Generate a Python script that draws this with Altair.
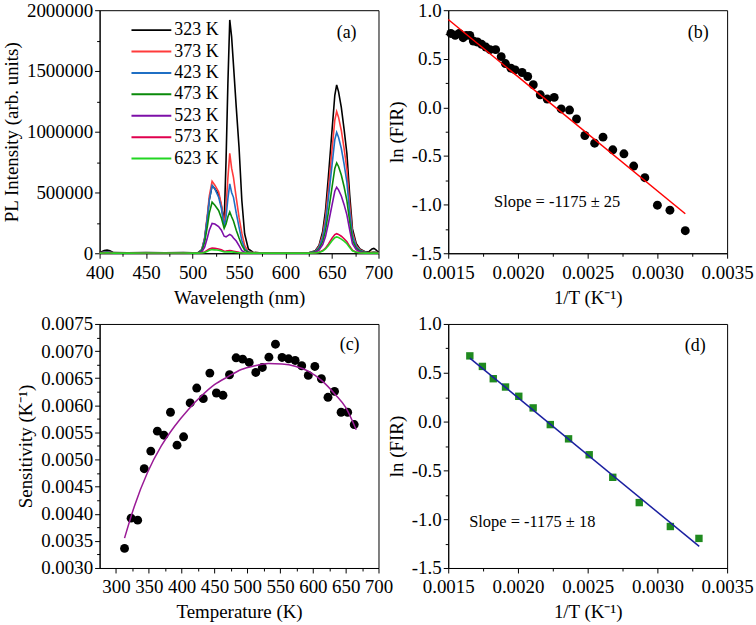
import altair as alt
import pandas as pd

FONT = "Liberation Serif"

# ---------------- Panel (a): PL spectra (intensity in thousands of arb. units) ----------------
wavelength = [400, 405, 408, 411, 415, 430, 450, 470, 490, 500,
              506, 510, 513, 516, 518, 521, 524, 528, 531, 534,
              536, 538, 540, 542, 544, 547, 550, 553, 556, 560,
              565, 575, 600, 625, 632, 636, 640, 643, 646, 650,
              653, 655, 657, 660, 663, 666, 669, 672, 676, 680,
              686, 690, 693, 695, 697, 700]
temps = ["323 K", "373 K", "423 K", "473 K", "523 K", "573 K", "623 K"]
temp_colors = ["#000000", "#ff3b3b", "#1f6fc4", "#0a8a0a", "#7d0fa8", "#e0004e", "#22d622"]

pl_323 = [5, 22, 27, 20, 5, 3, 5, 4, 6, 3,
          5, 30, 120, 300, 440, 557, 530, 485, 390, 260,
          760, 1400, 1920, 1780, 1550, 1200, 870, 434, 160, 35,
          8, 2, 2, 3, 20, 65, 180, 350, 620, 1010,
          1300, 1385, 1330, 1200, 1020, 820, 480, 200, 80, 35,
          10, 15, 35, 40, 30, 8]
pl_373 = [3, 8, 10, 8, 3, 2, 3, 3, 4, 3,
          5, 30, 130, 320, 470, 593, 560, 505, 400, 232,
          380, 620, 822, 700, 625, 455, 295, 165, 65, 12,
          5, 2, 2, 3, 17, 55, 150, 295, 520, 850,
          1095, 1166, 1120, 1010, 860, 690, 400, 170, 65, 28,
          8, 5, 8, 10, 8, 4]
pl_423 = [3, 8, 10, 8, 3, 2, 3, 3, 4, 3,
          5, 28, 120, 300, 440, 557, 530, 462, 370, 216,
          300, 450, 571, 500, 460, 330, 215, 105, 38, 10,
          4, 2, 2, 3, 15, 47, 130, 250, 445, 725,
          935, 994, 955, 862, 733, 585, 340, 145, 55, 24,
          7, 4, 6, 8, 6, 3]
pl_473 = [2, 6, 8, 6, 2, 2, 3, 3, 4, 3,
          4, 22, 90, 225, 330, 420, 395, 352, 290, 205,
          240, 300, 339, 300, 265, 190, 125, 66, 25, 8,
          3, 2, 2, 2, 11, 35, 96, 187, 332, 542,
          698, 743, 714, 644, 547, 433, 262, 108, 41, 18,
          5, 3, 5, 6, 5, 2]
pl_523 = [2, 5, 6, 5, 2, 2, 3, 3, 3, 2,
          3, 12, 50, 130, 190, 245, 240, 220, 190, 140,
          135, 145, 155, 145, 125, 100, 62, 22, 8, 4,
          2, 1, 1, 2, 8, 26, 70, 137, 243, 396,
          510, 543, 522, 471, 400, 316, 192, 79, 30, 13,
          4, 2, 3, 4, 3, 1]
pl_573 = [1, 3, 4, 3, 1, 1, 2, 2, 2, 1,
          2, 3, 10, 25, 35, 43, 40, 35, 28, 16,
          18, 21, 22, 20, 17, 12, 7, 3, 1, 1,
          1, 1, 1, 1, 3, 8, 22, 42, 75, 123,
          154, 161, 155, 140, 119, 94, 57, 24, 9, 4,
          1, 1, 1, 2, 1, 1]
pl_623 = [1, 2, 3, 2, 1, 1, 2, 2, 2, 1,
          1, 2, 7, 17, 25, 30, 28, 24, 19, 10,
          10, 11, 12, 11, 9, 6, 4, 2, 1, 1,
          1, 1, 1, 1, 2, 7, 19, 35, 62, 102,
          128, 134, 129, 116, 99, 78, 47, 20, 8, 3,
          1, 1, 1, 1, 1, 1]
spectra = [pl_323, pl_373, pl_423, pl_473, pl_523, pl_573, pl_623]

# ---------------- Panel (b) ----------------
invT_b = [0.001519, 0.00155, 0.001578, 0.001607, 0.00163, 0.001655, 0.00168, 0.00171,
          0.00174, 0.00177, 0.0018, 0.00184, 0.00188, 0.00191, 0.00195, 0.00198,
          0.00203, 0.00207, 0.00211, 0.00216, 0.00221, 0.00226, 0.00231, 0.00237,
          0.00242, 0.00248, 0.00255, 0.00261, 0.00268, 0.00276, 0.00283, 0.00291,
          0.0030, 0.00309, 0.0032]
lnfir_b = [0.761, 0.741, 0.761, 0.717, 0.741, 0.741, 0.683, 0.673,
           0.649, 0.621, 0.594, 0.594, 0.522, 0.451, 0.403, 0.386,
           0.359, 0.318, 0.233, 0.130, 0.086, 0.103, -0.016, -0.027,
           -0.119, -0.289, -0.368, -0.306, -0.436, -0.477, -0.603, -0.723,
           -1.006, -1.057, -1.268]
fit_b_x = [0.0015, 0.0032]
fit_b_y = [0.904, -1.094]

# ---------------- Panel (c) ----------------
temp_c = [313, 323, 333, 343, 353, 363, 373, 383, 393, 403, 413, 423,
          433, 443, 453, 463, 473, 483, 493, 503, 513, 523, 533, 543,
          553, 563, 573, 583, 593, 603, 613, 623, 633, 643, 653, 663]
sens_c = [0.003361, 0.003919, 0.003882, 0.004831, 0.005155, 0.005523, 0.005449, 0.005872,
          0.005265, 0.005419, 0.006043, 0.006318, 0.006123, 0.006594, 0.006227, 0.006184,
          0.006563, 0.006876, 0.006851, 0.00679, 0.006606, 0.006698, 0.006888, 0.007127,
          0.006882, 0.006857, 0.006827, 0.006729, 0.006551, 0.006716, 0.00649, 0.006147,
          0.006257, 0.005872, 0.005872, 0.005645]
fit_c_t = [313, 328, 348, 369, 389, 410, 430, 450, 471, 491, 512, 532, 553, 573, 593, 614, 634, 650, 666]
fit_c_s = [0.00355, 0.00414, 0.00476, 0.00525, 0.00561, 0.00592, 0.00617, 0.00638, 0.00653, 0.00666,
           0.00673, 0.00677, 0.00676, 0.00672, 0.00663, 0.00645, 0.00620, 0.00596, 0.00555]

# ---------------- Panel (d) ----------------
invT_d = [0.001655, 0.001745, 0.001823, 0.001911, 0.002006, 0.002109, 0.002232,
          0.002363, 0.002511, 0.00268, 0.00287, 0.003093, 0.003298]
lnfir_d = [0.673, 0.565, 0.439, 0.354, 0.259, 0.140, -0.031,
           -0.177, -0.340, -0.571, -0.830, -1.075, -1.197]
fit_d_x = [0.001655, 0.0033]
fit_d_y = [0.650, -1.279]

# tick values
a_x_major = [400, 450, 500, 550, 600, 650, 700]
a_x_minor = [425, 475, 525, 575, 625, 675]
a_y_major = [0, 500000, 1000000, 1500000, 2000000]
a_y_minor = [250000, 750000, 1250000, 1750000]
inv_major = [0.0015, 0.0020, 0.0025, 0.0030, 0.0035]
inv_minor = [0.00175, 0.00225, 0.00275, 0.00325]
ln_major = [-1.5, -1.0, -0.5, 0.0, 0.5, 1.0]
ln_minor = [-1.25, -0.75, -0.25, 0.25, 0.75]
c_x_major = [300, 350, 400, 450, 500, 550, 600, 650, 700]
c_x_minor = [325, 375, 425, 475, 525, 575, 625, 675]
c_y_major = [0.0030, 0.0035, 0.0040, 0.0045, 0.0050, 0.0055, 0.0060, 0.0065, 0.0070, 0.0075]
c_y_minor = [0.00325, 0.00375, 0.00425, 0.00475, 0.00525, 0.00575, 0.00625, 0.00675, 0.00725]

W, H1, H2 = 280, 244, 245
LABEL_SIZE = 19
MINUS_FIX = "replace(format(datum.value, '.1f'), '\u2212', '-')"


def major_axis(values, title, orient, fmt=None, expr=None):
    kw = dict(values=values, title=title, orient=orient, tickSize=5,
              labelFlush=False, labelOverlap=False, labelFont=FONT, labelFontSize=LABEL_SIZE)
    if fmt is not None:
        kw["format"] = fmt
    if expr is not None:
        kw["labelExpr"] = expr
    return alt.Axis(**kw)


def minor_axis(values, orient):
    return alt.Axis(values=values, orient=orient, labels=False, tickSize=3, domain=False,
                    title=None, grid=False)


def minor_layer(df, xf, yf, xs, ys, xminor, yminor):
    return alt.Chart(df).mark_point(opacity=0).encode(
        x=alt.X(xf, scale=xs, axis=minor_axis(xminor, "bottom")),
        y=alt.Y(yf, scale=ys, axis=minor_axis(yminor, "left")),
    )


def label(text, px, py, size=18, align="center"):
    return alt.Chart(pd.DataFrame({"t": [text]})).mark_text(
        font=FONT, fontSize=size, align=align, baseline="middle", color="black"
    ).encode(x=alt.value(px), y=alt.value(py), text="t:N")


# ---- (a)
rows = []
for t, vals in zip(temps, spectra):
    for w, v in zip(wavelength, vals):
        rows.append({"wl": w, "I": v * 1000, "T": t})
dfa = pd.DataFrame(rows)
xa = alt.Scale(domain=[400, 700], nice=False, zero=False)
ya = alt.Scale(domain=[0, 2000000], nice=False)
lines_a = alt.Chart(dfa).mark_line(strokeWidth=1.6).encode(
    x=alt.X("wl:Q", scale=xa, axis=major_axis(a_x_major, "Wavelength (nm)", "bottom")),
    y=alt.Y("I:Q", scale=ya, axis=major_axis(a_y_major, "PL Intensity (arb. units)", "left", fmt="d")),
    color=alt.Color("T:N", scale=alt.Scale(domain=temps, range=temp_colors),
                    legend=alt.Legend(orient="none", legendX=41, legendY=9, title=None,
                                      symbolType="M-2,0L2,0", symbolSize=400, symbolStrokeWidth=2,
                                      labelFont=FONT, labelFontSize=18, labelColor="black",
                                      labelOffset=12, rowPadding=1.5, padding=0)),
)
pa = alt.layer(
    lines_a,
    minor_layer(dfa, "wl:Q", "I:Q", xa, ya, a_x_minor, a_y_minor),
    label("(a)", 248, 23),
).resolve_axis(x="independent", y="independent").properties(width=W, height=H1)

# ---- (b)
dfb = pd.DataFrame({"x": invT_b, "y": lnfir_b})
dfb_fit = pd.DataFrame({"x": fit_b_x, "y": fit_b_y})
xb = alt.Scale(domain=[0.0015, 0.0035], nice=False, zero=False)
yb = alt.Scale(domain=[-1.5, 1.0], nice=False, zero=False)
pts_b = alt.Chart(dfb).mark_circle(size=80, color="black", opacity=1).encode(
    x=alt.X("x:Q", scale=xb, axis=major_axis(inv_major, "1/T (K\u207b\u00b9)", "bottom", fmt=".4f")),
    y=alt.Y("y:Q", scale=yb, axis=major_axis(ln_major, "ln (FIR)", "left", expr=MINUS_FIX)),
)
line_b = alt.Chart(dfb_fit).mark_line(color="#ff0000", strokeWidth=1.5).encode(
    x=alt.X("x:Q", scale=xb, axis=None), y=alt.Y("y:Q", scale=yb, axis=None))
pb = alt.layer(
    pts_b, line_b,
    minor_layer(dfb, "x:Q", "y:Q", xb, yb, inv_minor, ln_minor),
    label("(b)", 251, 23),
    label("Slope = -1175 \u00b1 25", 46, 193, size=16.5, align="left"),
).resolve_axis(x="independent", y="independent").properties(width=W, height=H1)

# ---- (c)
dfc = pd.DataFrame({"T": temp_c, "S": sens_c})
dfc_fit = pd.DataFrame({"T": fit_c_t, "S": fit_c_s})
xc = alt.Scale(domain=[275, 700], nice=False, zero=False)
yc = alt.Scale(domain=[0.003, 0.0075], nice=False, zero=False)
pts_c = alt.Chart(dfc).mark_circle(size=80, color="black", opacity=1).encode(
    x=alt.X("T:Q", scale=xc, axis=major_axis(c_x_major, "Temperature (K)", "bottom", fmt="d")),
    y=alt.Y("S:Q", scale=yc, axis=major_axis(c_y_major, "Sensitivity (K\u207b\u00b9)", "left", fmt=".4f")),
)
line_c = alt.Chart(dfc_fit).mark_line(color="#9a1a96", strokeWidth=1.5, interpolate="monotone").encode(
    x=alt.X("T:Q", scale=xc, axis=None), y=alt.Y("S:Q", scale=yc, axis=None))
pc = alt.layer(
    pts_c, line_c,
    minor_layer(dfc, "T:Q", "S:Q", xc, yc, c_x_minor, c_y_minor),
    label("(c)", 251, 21),
).resolve_axis(x="independent", y="independent").properties(width=W, height=H2)

# ---- (d)
dfd = pd.DataFrame({"x": invT_d, "y": lnfir_d})
dfd_fit = pd.DataFrame({"x": fit_d_x, "y": fit_d_y})
pts_d = alt.Chart(dfd).mark_square(size=55, color="#1f8a1f", opacity=1).encode(
    x=alt.X("x:Q", scale=xb, axis=major_axis(inv_major, "1/T (K\u207b\u00b9)", "bottom", fmt=".4f")),
    y=alt.Y("y:Q", scale=yb, axis=major_axis(ln_major, "ln (FIR)", "left", expr=MINUS_FIX)),
)
line_d = alt.Chart(dfd_fit).mark_line(color="#1a1fa0", strokeWidth=1.5).encode(
    x=alt.X("x:Q", scale=xb, axis=None), y=alt.Y("y:Q", scale=yb, axis=None))
pd_ = alt.layer(
    pts_d, line_d,
    minor_layer(dfd, "x:Q", "y:Q", xb, yb, inv_minor, ln_minor),
    label("(d)", 248, 22),
    label("Slope = -1175 \u00b1 18", 21, 199, size=16.5, align="left"),
).resolve_axis(x="independent", y="independent").properties(width=W, height=H2)

chart = alt.concat(
    pa, pb, pc, pd_, columns=2, bounds="flush",
    spacing=alt.RowColnumber(row=71, column=70),
).properties(
    padding={"left": 2, "top": -1, "right": 2, "bottom": 2}
).configure_view(
    stroke="black", strokeWidth=1
).configure_axis(
    labelFont=FONT, titleFont=FONT, labelFontSize=LABEL_SIZE, titleFontSize=19,
    titleFontWeight="normal", labelColor="black", titleColor="black",
    domainColor="black", tickColor="black", grid=False, domainWidth=1, tickWidth=1,
).configure_axisX(
    labelPadding=5, titlePadding=6
).configure_axisY(
    labelPadding=2, titlePadding=5
)

chart.save("out.html", embed_options={"renderer": "svg", "actions": False})
